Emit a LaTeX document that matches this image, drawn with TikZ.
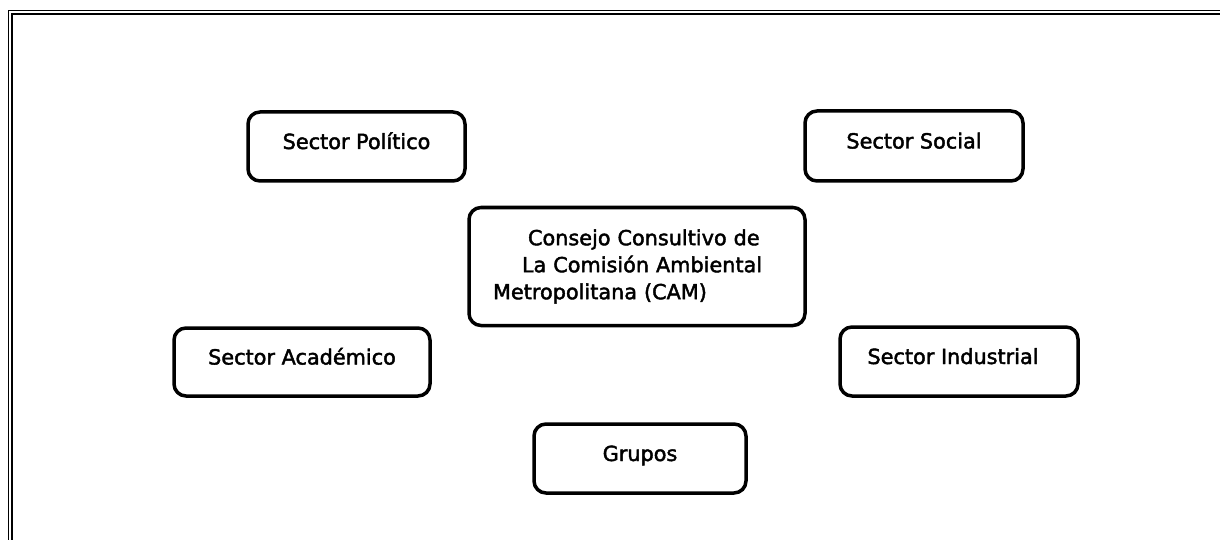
\documentclass[tikz,border=0pt]{standalone}
\usepackage{fontspec}
\setmainfont[BoldFont={DejaVu Sans}, BoldFeatures={FakeBold=2}]{DejaVu Sans}
\begin{document}
\begin{tikzpicture}[x=1pt, y=-1pt,
  box/.style={draw, line width=3.5pt, rounded corners=12pt, inner sep=0pt,
    font=\fontsize{20.8}{27}\selectfont\bfseries},
  sector/.style={box, align=center, text height=15pt, text depth=10pt}]
\useasboundingbox (0,0) rectangle (1220,540);
% frame
\draw [line width=1.1pt] (8.5,540) -- (8.5,10.5) -- (1220,10.5);
\draw [line width=1.1pt] (12,540) -- (12,14) -- (1220,14);

\node [sector, minimum width=217, minimum height=69] (pol) at (356.5,146.5) {Sector Político};
\node [sector, minimum width=218, minimum height=70] (soc) at (914,146) {Sector Social};
\node [box, minimum width=336, minimum height=118, text width=288, align=left] (cam) at (637,266.5)
  {\hspace*{35pt}Consejo Consultivo de\\\hspace*{29pt}La Comisión Ambiental\\Metropolitana (CAM)};
\node [sector, minimum width=256, minimum height=68] (aca) at (302,362) {Sector Académico};
\node [sector, minimum width=238, minimum height=69] (ind) at (959,361.5) {Sector Industrial\hspace*{12pt}};
\node [sector, minimum width=212, minimum height=69] (gru) at (640,458.5) {Grupos};
\end{tikzpicture}
\end{document}
